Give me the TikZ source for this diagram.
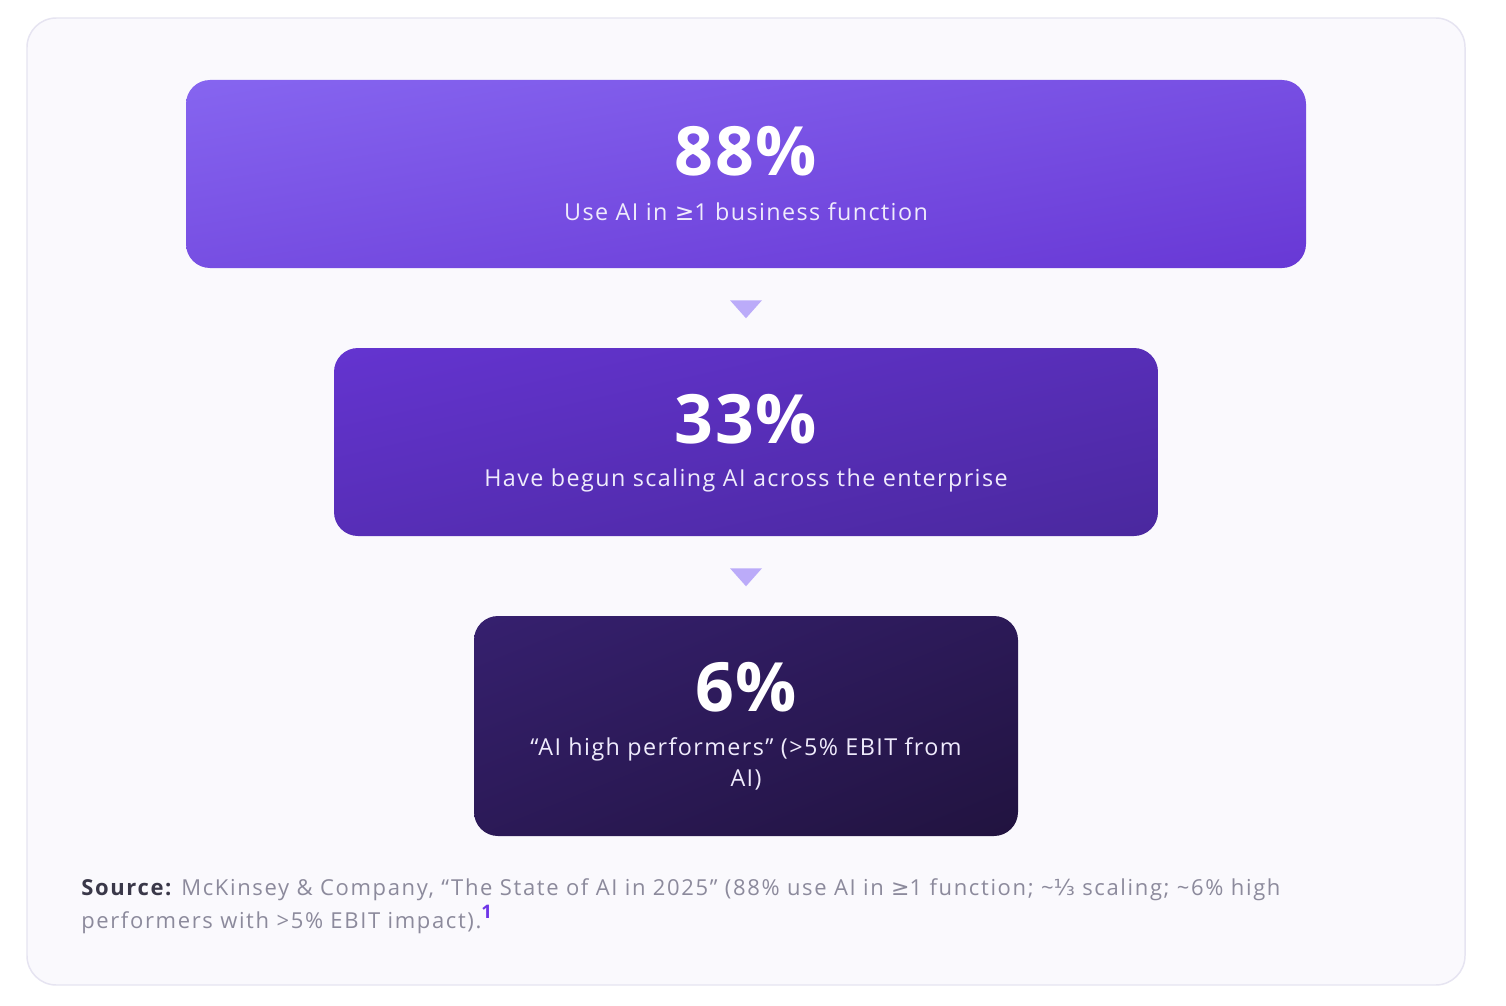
\documentclass[tikz,border=0pt]{standalone}
\usepackage{fontspec}
\setmainfont{Open Sans}[LetterSpace=2.5]
\newfontfamily\capfont{Open Sans}[LetterSpace=6]
\newfontfamily\srcfont{Open Sans}[LetterSpace=7.5]
\newfontfamily\symfont{DejaVu Sans}
\usetikzlibrary{calc,shadings}

\definecolor{cardfill}{HTML}{FAF9FD}
\definecolor{cardline}{HTML}{E6E4F1}
\definecolor{topA}{HTML}{8665F0}
\definecolor{topB}{HTML}{6838D5}
\definecolor{midA}{HTML}{6434D0}
\definecolor{midB}{HTML}{4A289E}
\definecolor{lowA}{HTML}{36206F}
\definecolor{lowB}{HTML}{21133F}
\definecolor{arrowlilac}{HTML}{BBABF9}
\definecolor{capwhite}{HTML}{EFEBFC}
\definecolor{srcdark}{HTML}{3A3849}
\definecolor{srcgray}{HTML}{8C8A9C}
\definecolor{fnpurple}{HTML}{6E35E8}

\begin{document}
\begin{tikzpicture}[x=0.75pt,y=-0.75pt,
  card/.style={fill=cardfill,draw=cardline,line width=1.1pt,rounded corners=22pt},
  statbox/.style={shade,rounded corners=18pt,inner sep=0pt,
    upper left=#1A,lower right=#1B,upper right=#1A!50!#1B,lower left=#1A!50!#1B},
  num/.style={text=white,inner sep=0pt,font=\bfseries\fontsize{51}{51}\selectfont},
  caption/.style={text=capwhite,inner sep=0pt,align=center,font=\capfont\fontsize{17.5}{23.25}\selectfont},
  tri/.style={fill=arrowlilac},
  source/.style={text=srcgray,inner sep=0pt,align=left,font=\srcfont\fontsize{16.5}{24.75}\selectfont}]

    \fill[white] (0,0) rectangle (1506,1006);
    \useasboundingbox (0,0) rectangle (1506,1006);
    \draw[card] (27,18) rectangle (1465,985);

    % stages
    \node[statbox=top,minimum width=840pt,minimum height=141pt] (b1) at (746,174) {};
    \node[statbox=mid,minimum width=618pt,minimum height=141pt] (b2) at (746,442) {};
    \node[statbox=low,minimum width=408pt,minimum height=165pt] (b3) at (746,726) {};

    \node[num] (n1) at (746,151) {88\%};
    \node[caption] (c1) at (746,212) {Use AI in {\symfont ≥}1 business function};
    \node[num] (n2) at (746,419) {33\%};
    \node[caption] (c2) at (746,480) {Have begun scaling AI across the enterprise};
    \node[num] (n3) at (746,687) {6\%};
    \node[caption] (c3) at (746,764) {“AI high performers” (>5\% EBIT from\\AI)};

    % arrows
    \fill[tri] ($(b1.south)+(-16,32)$) -- ($(b1.south)+(16,32)$) -- ($(b1.south)+(0,50)$) -- cycle;
    \fill[tri] ($(b2.south)+(-16,32)$) -- ($(b2.south)+(16,32)$) -- ($(b2.south)+(0,50)$) -- cycle;

    \node[source,anchor=north west] (src) at (81,878) {{\color{srcdark}\bfseries Source:} McKinsey \& Company, “The State of AI in 2025” (88\% use AI in {\symfont ≥}1 function; \textasciitilde{\symfont ⅓} scaling; \textasciitilde6\% high\\performers with >5\% EBIT impact).\raisebox{0.45em}{\fontsize{14}{14}\selectfont\bfseries\color{fnpurple}1}};
\end{tikzpicture}
\end{document}
